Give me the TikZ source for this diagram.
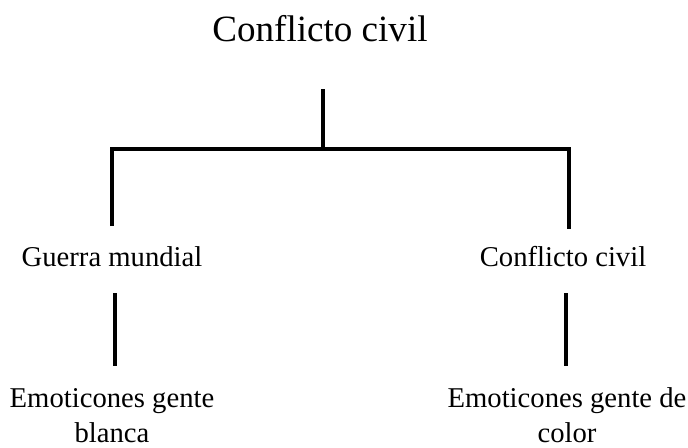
\documentclass[tikz,border=0pt]{standalone}
\usepackage{fontspec}
\setmainfont{Liberation Serif}
\begin{document}
\begin{tikzpicture}[x=0.75pt,y=-0.75pt,
  lbl/.style={inner sep=0pt,anchor=base,font=\fontsize{21.5}{26.2}\selectfont,align=center},
  ttl/.style={inner sep=0pt,anchor=base,font=\fontsize{27.8}{33}\selectfont},
  conn/.style={line width=2.4pt,black}]
\useasboundingbox (0,0) rectangle (688,447);
\node[ttl] (root) at (320,41) {Conflicto civil};
\node[lbl] (gm) at (112,266) {Guerra mundial};
\node[lbl] (cc) at (563,266) {Conflicto civil};
\node[lbl] (eb) at (112,442) {Emoticones gente\\blanca};
\node[lbl] (ec) at (567,442) {Emoticones gente de\\color};
\coordinate (top) at (323,89);
\coordinate (mid) at (323,149);
\coordinate (hl) at (112,149);
\coordinate (hr) at (569,149);
\coordinate (dl) at (112,226);
\coordinate (dr) at (569,229);
\coordinate (l1) at (115,293);
\coordinate (l2) at (115,366);
\coordinate (r1) at (566,293);
\coordinate (r2) at (566,366);
\draw[conn] (top) -- (mid);
\draw[conn] (dl) -- (hl) -- (hr) -- (dr);
\draw[conn] (l1) -- (l2);
\draw[conn] (r1) -- (r2);
\end{tikzpicture}
\end{document}
